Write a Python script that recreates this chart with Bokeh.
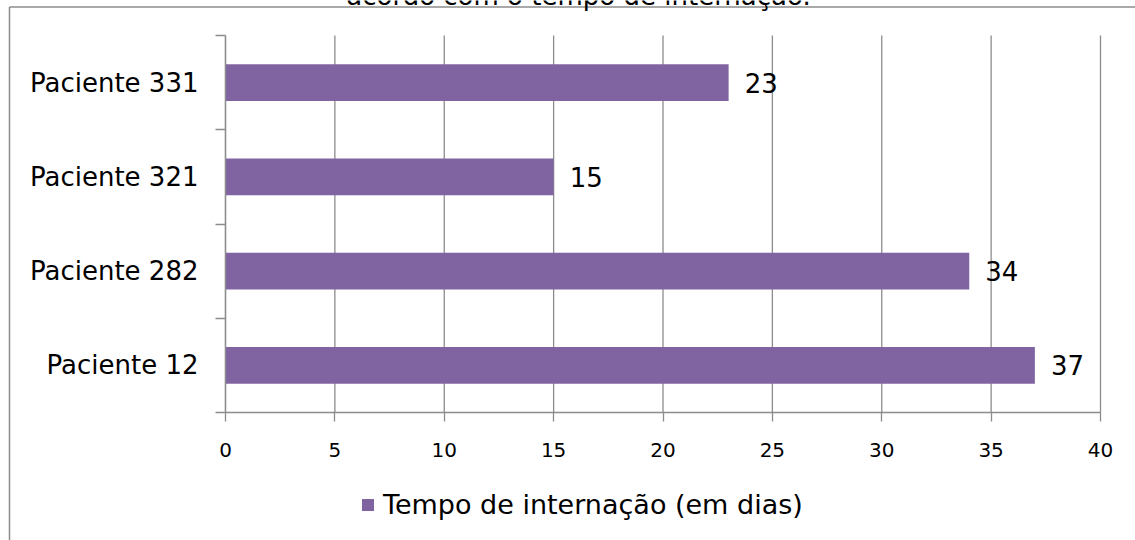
from bokeh.plotting import figure
from bokeh.models import (ColumnDataSource, FixedTicker, Legend, LegendItem,
                          LabelSet, Label)
from bokeh.embed import file_html
from bokeh.resources import INLINE
from bokeh.core.properties import value

# ---- data ----
patients = ["Paciente 12", "Paciente 282", "Paciente 321", "Paciente 331"]
days = [37, 34, 15, 23]
x_ticks = [0, 5, 10, 15, 20, 25, 30, 35, 40]
series_name = "Tempo de internação (em dias)"
title_tail = "acordo com o tempo de internação."

# ---- layout (pixels) ----
W, H = 1135, 540
PL, PR, PT, PB = 225, 1100, 35, 412     # plot area inside the chart box
FONT = "DejaVu Sans"
GRAY = "#8c8c8c"
BAR = "#8064A2"

n = len(patients)
xmin, xmax = x_ticks[0], x_ticks[-1]
ppx = (PR - PL) / (xmax - xmin)          # pixels per day
ppy = (PB - PT) / n                      # pixels per category band


def dx(px):
    return xmin + (px - PL) / ppx


def dy(py):
    return (PB - py) / ppy


ypos = [i + 0.5 for i in range(n)]
bounds = [float(i) for i in range(n + 1)]
src = ColumnDataSource(dict(y=ypos, days=days, label=[str(d) for d in days]))
grid_src = ColumnDataSource(dict(x=x_ticks, y0=[0] * len(x_ticks),
                                 y1=[n] * len(x_ticks)))

p = figure(width=W, height=H, x_range=(dx(0), dx(W)), y_range=(dy(H), dy(0)),
           output_backend="svg", toolbar_location=None,
           min_border_left=0, min_border_right=0,
           min_border_top=0, min_border_bottom=0)
p.outline_line_color = None
p.background_fill_color = "white"
p.border_fill_color = "white"
p.xgrid.grid_line_color = None
p.ygrid.grid_line_color = None

# vertical gridlines limited to the plot area
p.segment(x0="x", y0="y0", x1="x", y1="y1", source=grid_src,
          line_color=GRAY, line_width=1.3)

bars = p.hbar(y="y", right="days", left=0, height=0.39, source=src,
              fill_color=BAR, line_color=None)

# x axis, drawn at y = 0 inside the box
xa = p.xaxis[0]
xa.fixed_location = 0
xa.bounds = (xmin, xmax)
xa.ticker = FixedTicker(ticks=x_ticks)
xa.major_tick_in = 0
xa.major_tick_out = 9
xa.minor_tick_line_color = None
xa.axis_line_color = GRAY
xa.axis_line_width = 1.3
xa.major_tick_line_color = GRAY
xa.major_tick_line_width = 1.3
xa.major_label_text_font = FONT
xa.major_label_text_font_size = "20px"
xa.major_label_text_color = "black"
xa.major_label_standoff = 21

# y axis at x = 0: labels at centres, ticks at band boundaries
ya = p.yaxis[0]
ya.fixed_location = xmin
ya.bounds = (0, n)
ya.ticker = FixedTicker(ticks=ypos, minor_ticks=bounds)
ya.major_label_overrides = {y: name for y, name in zip(ypos, patients)}
ya.major_tick_line_color = None
ya.major_tick_in = 0
ya.major_tick_out = 0
ya.minor_tick_in = 0
ya.minor_tick_out = 10
ya.minor_tick_line_color = GRAY
ya.minor_tick_line_width = 1.3
ya.axis_line_color = GRAY
ya.axis_line_width = 1.3
ya.major_label_text_font = FONT
ya.major_label_text_font_size = "26px"
ya.major_label_text_color = "black"
ya.major_label_standoff = 17

# value labels
p.add_layout(LabelSet(x="days", y="y", text="label", source=src, x_offset=16,
                      text_baseline="middle", text_align="left",
                      text_font=value(FONT), text_font_size=value("26px"),
                      text_color="black"))

# legend below the plot area
legend = Legend(items=[LegendItem(label=series_name, renderers=[bars])],
                location=(360, 20), orientation="horizontal",
                glyph_width=15, glyph_height=15, label_standoff=8,
                padding=0, margin=0, border_line_color=None,
                background_fill_alpha=0, label_text_font=FONT,
                label_text_font_size="27px", label_text_color="black")
p.add_layout(legend)

# chart box border (left and top edges visible)
p.segment(x0=[dx(9), dx(9)], y0=[dy(6.5), dy(6.5)],
          x1=[dx(9), dx(W + 5)], y1=[dy(H + 5), dy(6.5)],
          line_color=GRAY, line_width=1.5)

# remnant of the title, cut by the top edge
p.add_layout(Label(x=dx(578), y=dy(-5), text=title_tail, text_align="center",
                   text_baseline="alphabetic", text_font=FONT,
                   text_font_size="26px", text_color="black"))

open("out.html", "w").write(file_html(p, INLINE))
